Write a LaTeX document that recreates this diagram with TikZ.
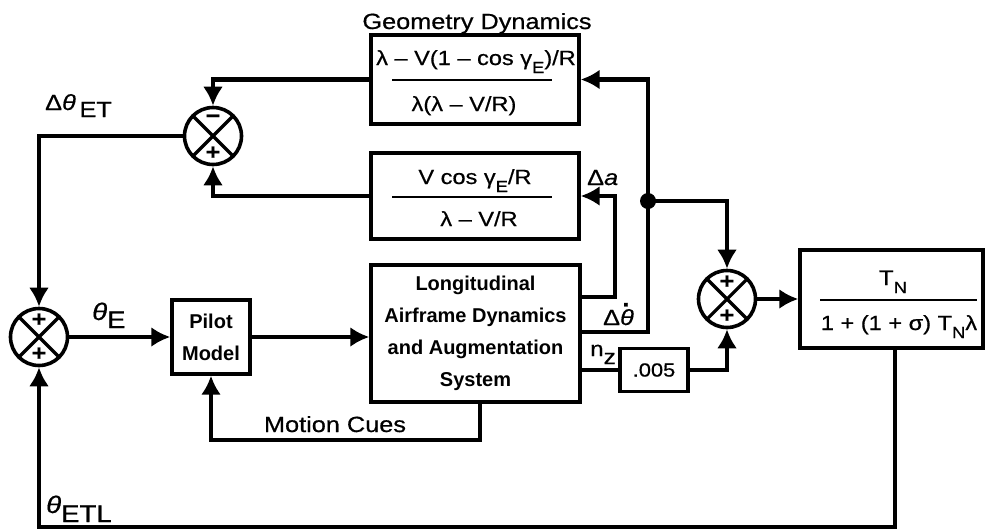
\documentclass[tikz,border=0pt]{standalone}
\usepackage{fontspec}
\setmainfont{Liberation Sans}[FakeStretch=1.15,FakeBold=0.6]
\newfontfamily\bxfont{Liberation Sans}[FakeStretch=1.0]
\usetikzlibrary{arrows.meta}
\newcommand\lowr[2]{\raisebox{-#1pt}{#2}}
\newcommand\sbE[1]{\raisebox{-8pt}{\fontsize{16}{16}\selectfont #1}}
\newcommand\thdot{\textit{θ}\makebox[0pt][r]{\raisebox{.85em}{\textbf{.}}\hspace{.2em}}}
\begin{document}
\begin{tikzpicture}[x=1pt,y=-1pt,
  box/.style={draw,line width=3.4pt,inner sep=0pt},
  conn/.style={line width=4.2pt},
  arr/.style={line width=4.2pt,-{Latex[length=19pt,width=20pt]}},
  sumj/.style={circle,draw,line width=3.6pt,minimum size=57pt,inner sep=0pt,
    path picture={\draw[line width=3.2pt]
      (path picture bounding box.north west) -- (path picture bounding box.south east)
      (path picture bounding box.north east) -- (path picture bounding box.south west);}},
  sgn/.style={font=\fontsize{22}{22}\selectfont\bfseries,inner sep=0pt},
  lab/.style={font=\fontsize{22}{26}\selectfont,inner sep=0pt},
  lab2/.style={font=\fontsize{22}{26}\selectfont,inner sep=0pt},
  frc/.style={font=\fontsize{20.5}{24}\selectfont,inner sep=0pt},
  bxt/.style={font=\bxfont\bfseries\fontsize{20}{32}\selectfont,align=center},
  rulest/.style={line width=2.8pt},
  dotst/.style={circle,fill,inner sep=0pt,minimum size=16pt}]
\useasboundingbox (0,0) rectangle (985,531);

% blocks
\node[box,minimum width=208pt,minimum height=89pt] (box1) at (475,79.5) {};
\node[box,minimum width=208pt,minimum height=86pt] (box2) at (475,196) {};
\node[box,minimum width=209pt,minimum height=137pt,bxt] (LAD) at (475.5,333.5)
  {Longitudinal\\Airframe Dynamics\\and Augmentation\\System};
\node[box,minimum width=78pt,minimum height=74pt,bxt] (pilot) at (211,337) {Pilot\\Model};
\node[box,minimum width=68pt,minimum height=43pt,font=\fontsize{19}{20}\selectfont] (k) at (654,370) {.005};
\node[box,minimum width=183pt,minimum height=98pt] (TN) at (891.5,299) {};

% junctions
\node[sumj] (S1) at (213,136) {};
\node[sumj] (S2) at (39,337) {};
\node[sumj] (S3) at (727,299) {};
\node[sgn] (s1t) at ([yshift=17pt]S1.center) {−};
\node[sgn] (s1b) at ([yshift=-17pt]S1.center) {+};
\node[sgn] (s2t) at ([yshift=17pt]S2.center) {+};
\node[sgn] (s2b) at ([yshift=-17pt]S2.center) {+};
\node[sgn] (s3t) at ([yshift=17pt]S3.center) {+};
\node[sgn] (s3b) at ([yshift=-17pt]S3.center) {+};

% fraction texts
\node[frc,anchor=base] (n1) at (476,65) {λ – V(1 – cos γ\sbE{E})/R};
\draw[rulest] (392,80) -- (552,80);
\node[frc,anchor=base] (d1) at (464,111) {λ(λ – V/R)};
\node[frc,anchor=base] (n2) at (475,184) {V cos γ\sbE{E}/R};
\draw[rulest] (392,197) -- (552,197);
\node[frc,anchor=base] (d2) at (479,226) {λ – V/R};
\node[frc,anchor=base,font=\fontsize{21}{24}\selectfont] (n3) at (893,285) {T\sbE{N}};
\draw[rulest] (820,300) -- (977,300);
\node[frc,anchor=base,font=\fontsize{20.5}{24}\selectfont] (d3) at (899,330) {1 + (1 + σ) T\sbE{N}λ};

% labels
\node[lab,anchor=base] (lGD) at (477,29) {Geometry Dynamics};
\node[lab,anchor=base west] (lET) at (45,110) {Δ\textit{θ}\,\lowr{7}{ET}};
\node[lab,anchor=base west,font=\fontsize{24}{28}\selectfont] (lE) at (92,320) {\textit{θ}\lowr{8}{E}};
\node[lab,anchor=base west,font=\fontsize{24}{28}\selectfont] (lETL) at (46,513) {\textit{θ}\lowr{9}{ETL}};
\node[lab,anchor=base] (lMC) at (335,432) {Motion Cues};
\node[lab2,anchor=base west] (lDa) at (587,185) {Δ\textit{a}};
\node[lab2,anchor=base west] (lDq) at (603,325) {Δ\thdot};
\node[lab2,anchor=base west,font=\fontsize{21}{25}\selectfont] (lnz) at (590,356) {n\lowr{8}{z}};

% bend points
\coordinate (mc) at (480,440);
\coordinate (fb) at (895,527);
\coordinate (a1) at (615,297);
\coordinate (a2) at (648,332);
\node[dotst] (dot) at (648,201) {};

% connectors
\draw[arr] (S1.west) -| (S2.north);
\draw[arr] (box1.west) -| (S1.north);
\draw[arr] (box2.west) -| (S1.south);
\draw[arr] (S2.east) -- (pilot.west);
\draw[arr] (pilot.east) -- (pilot.east -| LAD.west);
\draw[arr] (LAD.south -| mc) -- (mc) -| (pilot.south);
\draw[arr] (TN.south -| fb) -- (fb) -| (S2.south);
\draw[arr] (LAD.east |- a1) -- (a1) |- (box2.east);
\draw[arr] (LAD.east |- a2) -- (a2) |- (box1.east);
\draw[arr] (dot.center) -| (S3.north);
\draw[conn] (LAD.east |- k.west) -- (k.west);
\draw[arr] (k.east) -| (S3.south);
\draw[arr] (S3.east) -- (TN.west);
\end{tikzpicture}
\end{document}
